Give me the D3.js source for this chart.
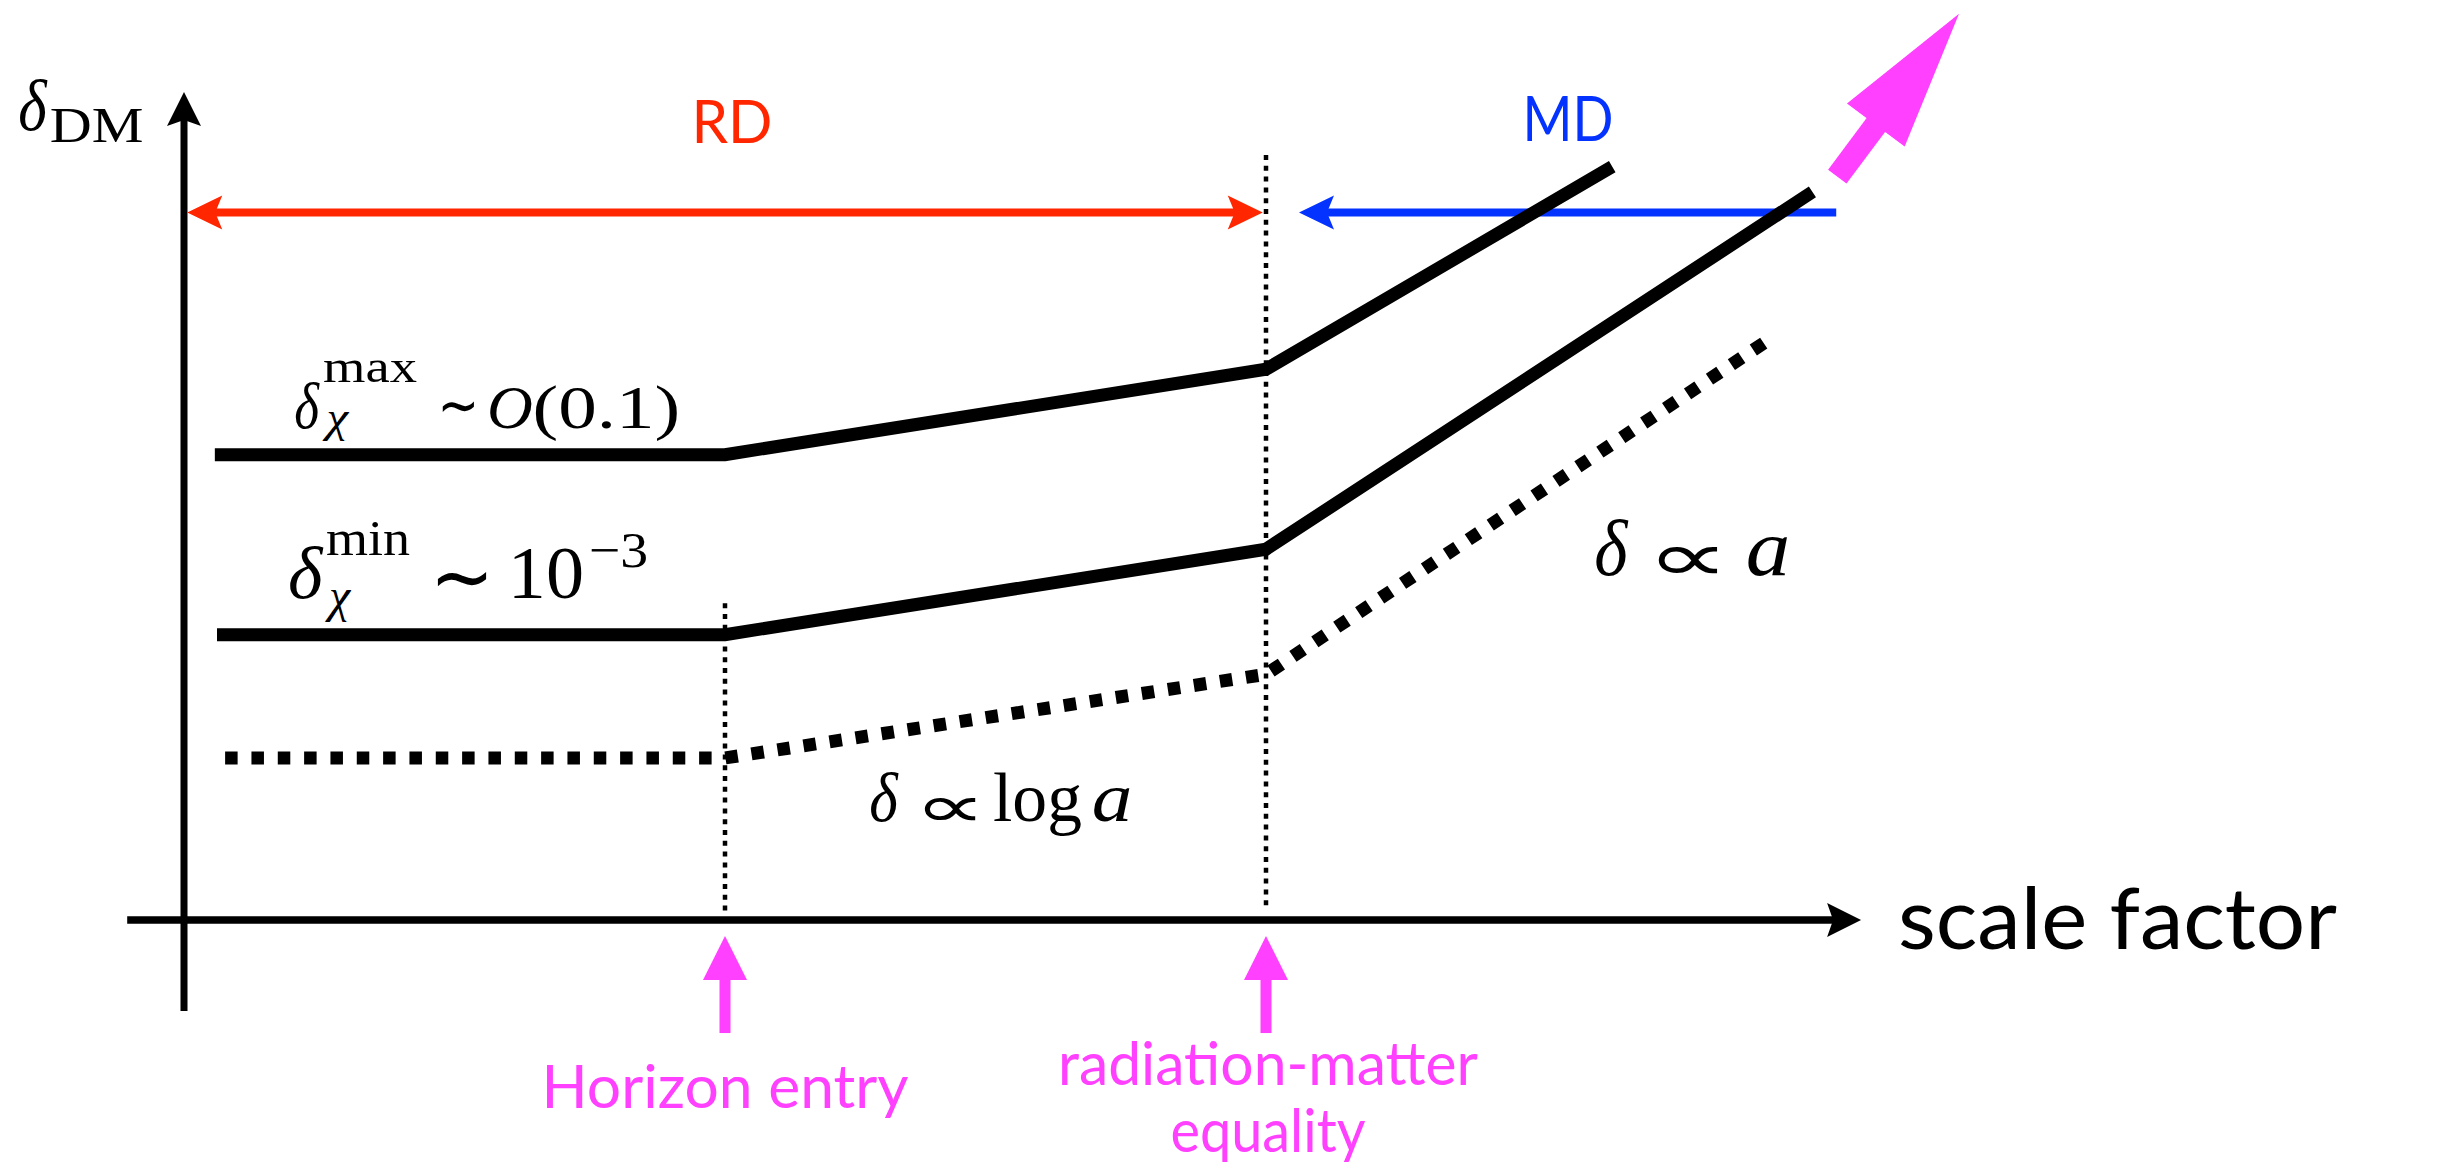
<!DOCTYPE html>
<html>
<head>
<meta charset="utf-8">
<script src="https://cdn.jsdelivr.net/npm/d3@7"></script>
<style>
  html, body { margin: 0; padding: 0; background: #fff; }
  svg { display: block; }
</style>
</head>
<body>
<svg id="chart" width="2438" height="1170"></svg>
<script>
// ---- data (x = log a, y = log δ; arbitrary units, 1 y-unit ≈ one decade) ----
const epochNames = ["Horizon entry", "radiation-matter equality"];
const epochX = [1, 2];
const epochGuideTop = [3.52, 8.5];

const curveNames = ["max", "min", "sub"];
const curveX = [
  [0.057, 1, 2, 2.64],
  [0.061, 1, 2, 3.01],
  [0.076, 1, 2, 2.92]
];
const curveY = [
  [5.17, 5.17, 6.12, 8.37],
  [3.17, 3.17, 4.12, 8.09],
  [1.80, 1.80, 2.73, 6.41]
];
const curveDotted = [false, false, true];

const eraNames = ["RD", "MD"];
const eraFrom = [0.006, 3.054];
const eraTo = [1.994, 2.061];
const eraLevel = 7.86;
const eraColors = ["#FF2600", "#0433FF"];
const eraLabelX = [1.013, 2.558];

const axisX = [-0.105, 3.1];
const axisY = [-1.01, 9.2];

const growthArrowFrom = [3.056, 8.26];
const growthArrowTo = [3.281, 10.07];

const magenta = "#FF40FF";

// ---- scales ----
const svg = d3.select("#chart");
const x = d3.scaleLinear().domain([0, 3.1]).range([184, 184 + 3.1 * 541]);
const y = d3.scaleLinear().domain([0, 9.2]).range([920, 92]);

function headPath(tip, ux, uy, len, half, notch) {
  const px = -uy, py = ux;
  const bx = tip[0] - ux * len, by = tip[1] - uy * len;
  const nx = tip[0] - ux * (len - notch), ny = tip[1] - uy * (len - notch);
  return `M${tip[0]},${tip[1]}L${bx + px * half},${by + py * half}L${nx},${ny}L${bx - px * half},${by - py * half}Z`;
}

// arrow with shaft, head at (x2,y2); optional head at the start too
function arrow(g, x1, y1, x2, y2, o) {
  const dx = x2 - x1, dy = y2 - y1, L = Math.hypot(dx, dy);
  const ux = dx / L, uy = dy / L;
  const back = o.len - o.notch - 1;
  const sx = o.both ? x1 + ux * back : x1, sy = o.both ? y1 + uy * back : y1;
  g.append("line")
    .attr("x1", sx).attr("y1", sy)
    .attr("x2", x2 - ux * back).attr("y2", y2 - uy * back)
    .attr("stroke", o.color).attr("stroke-width", o.width);
  g.append("path").attr("d", headPath([x2, y2], ux, uy, o.len, o.half, o.notch)).attr("fill", o.color);
  if (o.both) g.append("path").attr("d", headPath([x1, y1], -ux, -uy, o.len, o.half, o.notch)).attr("fill", o.color);
}

// ---- axes ----
const axes = svg.append("g");
arrow(axes, x(axisX[0]), y(0), x(axisX[1]), y(0), {color: "#000", width: 7.5, len: 34, half: 17, notch: 6});
arrow(axes, x(0), y(axisY[0]), x(0), y(axisY[1]), {color: "#000", width: 7, len: 34, half: 17, notch: 6});

// ---- epoch guides ----
svg.append("g").selectAll("line").data(epochX).join("line")
  .attr("x1", d => x(d)).attr("x2", d => x(d))
  .attr("y1", (d, i) => y(epochGuideTop[i])).attr("y2", y(0.1))
  .attr("stroke", "#000").attr("stroke-width", 4.5).attr("stroke-dasharray", "5 5.8");

// ---- era spans ----
const eras = svg.append("g");
eraNames.forEach((name, i) => {
  arrow(eras, x(eraFrom[i]), y(eraLevel), x(eraTo[i]), y(eraLevel),
    {color: eraColors[i], width: 8, len: 35, half: 17, notch: 7, both: i === 0});
});
eras.selectAll("text").data(eraNames).join("text")
  .attr("x", (d, i) => x(eraLabelX[i]) - (i === 0 ? 40.5 : 45.5))
  .attr("y", (d, i) => i === 0 ? 143 : 141)
  .attr("textLength", (d, i) => i === 0 ? 81 : 91)
  .attr("lengthAdjust", "spacingAndGlyphs")
  .attr("font-family", "Lato, 'Open Sans', sans-serif")
  .attr("font-size", (d, i) => i === 0 ? 60 : 61)
  .attr("fill", (d, i) => eraColors[i])
  .text(d => d);

// ---- growth curves ----
const line = d3.line().x(d => x(d[0])).y(d => y(d[1]));
const DASH = 12.5, PERIOD = 26.5;
svg.append("g").selectAll("path")
  .data(curveNames.map((n, i) => curveX[i].map((v, j) => [v, curveY[i][j]])))
  .join("path")
  .attr("d", line)
  .attr("fill", "none")
  .attr("stroke", "#000")
  .attr("stroke-width", 13)
  .attr("stroke-linejoin", "miter")
  .attr("stroke-linecap", "butt")
  .each(function (d, i) {
    if (!curveDotted[i]) return;
    // stretch the period slightly so the run ends on a whole square
    const L = this.getTotalLength();
    const n = Math.round((L - DASH) / PERIOD);
    const p = (L - DASH) / n;
    d3.select(this).attr("stroke-dasharray", `${DASH} ${p - DASH}`);
  });

// ---- continuing-growth arrow ----
(function () {
  const g = svg.append("g");
  const x1 = x(growthArrowFrom[0]), y1 = y(growthArrowFrom[1]);
  const x2 = x(growthArrowTo[0]), y2 = y(growthArrowTo[1]);
  arrow(g, x1, y1, x2, y2, {color: magenta, width: 23, len: 139, half: 36, notch: 0});
})();

// ---- epoch markers ----
const marks = svg.append("g");
epochX.forEach(v => {
  arrow(marks, x(v), y(-1.256), x(v), y(-0.178), {color: magenta, width: 11, len: 44, half: 22, notch: 0});
});
const sans = "Lato, 'Open Sans', sans-serif";
const epochLines = [[["Horizon entry", 367, 1108]], [["radiation-matter", 420, 1085], ["equality", 195, 1152]]];
epochLines.forEach((rows, i) => {
  rows.forEach(r => {
    marks.append("text")
      .attr("x", x(epochX[i]) - r[1] / 2 + (i === 1 ? 2 : 0))
      .attr("y", r[2])
      .attr("textLength", r[1]).attr("lengthAdjust", "spacingAndGlyphs")
      .attr("font-family", sans).attr("font-size", 60).attr("fill", magenta)
      .text(r[0]);
  });
});

// ---- axis title ----
svg.append("text")
  .attr("x", 1898).attr("y", 949)
  .attr("textLength", 439).attr("lengthAdjust", "spacingAndGlyphs")
  .attr("font-family", sans).attr("font-size", 86).attr("fill", "#000")
  .text("scale factor");

// ---- math labels ----
// Each piece is fitted by its ink box: horizontally into [x0, x1] on the given
// baseline; operators can also be fitted vertically into [top, bottom].
const serifFam = "Liberation Serif";
const opFam = "DejaVu Sans";
const ctx = document.createElement("canvas").getContext("2d");
function ink(txt, fam, size, italic) {
  ctx.font = `${italic ? "italic " : ""}${size}px "${fam}"`;
  const m = ctx.measureText(txt);
  return {l: -m.actualBoundingBoxLeft, r: m.actualBoundingBoxRight,
          t: -m.actualBoundingBoxAscent, b: m.actualBoundingBoxDescent};
}
const mathLayer = svg.append("g");
function formula(parts) {
  const g = mathLayer.append("g");
  parts.forEach(p => {
    const [txt, x0, x1, base, size, style, top, bottom] = p;
    const fam = style === "op" ? opFam : serifFam;
    const italic = style === "i";
    const b = ink(txt, fam, size, italic);
    const sx = (x1 - x0) / Math.max(1, b.r - b.l);
    let sy = 1, ty = base;
    if (top !== undefined) {
      sy = (bottom - top) / Math.max(1, b.b - b.t);
      ty = top - sy * b.t;
    }
    g.append("text")
      .attr("x", 0).attr("y", 0)
      .attr("fill", "#000")
      .attr("font-family", `'${fam}', serif`)
      .attr("font-size", size)
      .attr("font-style", italic ? "italic" : "normal")
      .attr("transform", `translate(${x0 - sx * b.l},${ty}) scale(${sx},${sy})`)
      .text(txt);
  });
}
// δ_DM
formula([["δ", 20, 48, 130, 72, "i"], ["DM", 51, 142, 142, 51, "r"]]);
// δ_χ^max ∼ O(0.1)
formula([
  ["δ", 295, 320, 428, 66, "i"],
  ["max", 323, 417, 382, 46, "r"],
  ["χ", 322, 350, 432, 44, "i"],
  ["∼", 442, 474, 428, 56, "op", 401, 413],
  ["O", 490, 532, 428, 62, "i"],
  ["(0.1)", 535, 677, 428, 62, "r"]
]);
// δ_χ^min ∼ 10^−3
formula([
  ["δ", 290, 324, 598, 74, "i"],
  ["min", 327, 410, 555, 50, "r"],
  ["χ", 325, 352, 612, 48, "i"],
  ["∼", 438, 487, 598, 66, "op", 571, 586],
  ["10", 514, 582, 598, 74, "r"],
  ["−3", 591, 647, 567, 50, "r"]
]);
// δ ∝ log a
formula([
  ["δ", 871, 899, 821, 70, "i"],
  ["∝", 924, 976, 821, 62, "op", 797, 821],
  ["log", 994, 1081, 821, 70, "r"],
  ["a", 1094, 1130, 821, 70, "i"]
]);
// δ ∝ a
formula([
  ["δ", 1596, 1629, 575, 80, "i"],
  ["∝", 1658, 1718, 575, 70, "op", 546, 574],
  ["a", 1748, 1787, 575, 80, "i"]
]);
</script>
</body>
</html>
